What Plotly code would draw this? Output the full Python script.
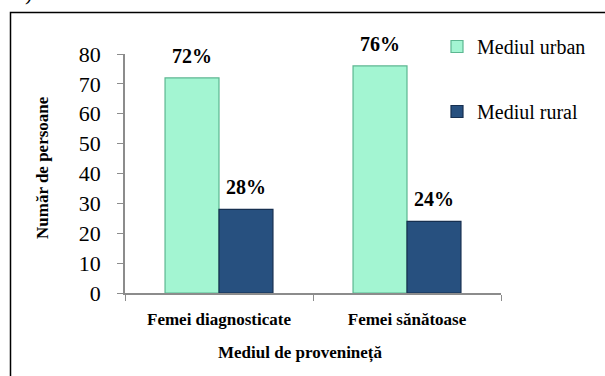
import plotly.graph_objects as go

# Data
categories = ["Femei diagnosticate", "Femei sănătoase"]
urban = [72, 76]
rural = [28, 24]
series_names = ["Mediul urban", "Mediul rural"]
y_ticks = [0, 10, 20, 30, 40, 50, 60, 70, 80]

FONT = "Liberation Serif, Times New Roman, serif"

# Plot-area geometry (pixels) used to place paper-referenced items
W, H = 605, 376
L, R, T, B = 125, 104, 54, 83
PW, PH = W - L - R, H - T - B


def px_x(x):
    return (x - L) / PW


def px_y(y):
    return (H - B - y) / PH


fig = go.Figure()
fig.add_trace(go.Bar(
    x=categories, y=urban, name=series_names[0], legendgroup="u",
    marker=dict(color="#a3f5d2", line=dict(color="#5cb791", width=1.2)),
))
fig.add_trace(go.Bar(
    x=categories, y=rural, name=series_names[1], legendgroup="r",
    marker=dict(color="#27507f", line=dict(color="#162f50", width=1.2)),
))

# Percentage labels above each bar
annotations = []
for i, cat in enumerate(categories):
    for vals, off in ((urban, -0.5), (rural, 0.5)):
        annotations.append(dict(
            x=cat, y=vals[i], xref="x", yref="y", xshift=off * 54,
            text=f"<b>{vals[i]}%</b>", showarrow=False,
            yanchor="bottom", yshift=9,
            font=dict(family=FONT, size=20, color="black"),
        ))

# Axis titles
annotations.append(dict(
    x=px_x(42), y=px_y(168), xref="paper", yref="paper",
    xanchor="center", yanchor="middle",
    text="<b>Număr de persoane</b>", textangle=-90, showarrow=False,
    font=dict(family=FONT, size=17, color="black"),
))
annotations.append(dict(
    x=px_x(300), y=px_y(353), xref="paper", yref="paper",
    xanchor="center", yanchor="middle",
    text="<b>Mediul de provenineță</b>", showarrow=False,
    font=dict(family=FONT, size=17, color="black"),
))
# Caption fragment at the very top
annotations.append(dict(
    x=px_x(12), y=px_y(7), xref="paper", yref="paper",
    xanchor="left", yanchor="bottom",
    text="2).", showarrow=False,
    font=dict(family=FONT, size=22, color="black"),
))

fig.update_layout(
    width=W, height=H,
    margin=dict(l=L, r=R, t=T, b=B, autoexpand=False),
    paper_bgcolor="white", plot_bgcolor="white",
    barmode="group", bargap=0.426, bargroupgap=0,
    font=dict(family=FONT, color="black"),
    showlegend=True,
    legend=dict(
        x=px_x(437), y=px_y(27), xanchor="left", yanchor="top",
        xref="paper", yref="paper",
        font=dict(family=FONT, size=20, color="black"),
        tracegroupgap=36, itemwidth=30,
        bgcolor="rgba(0,0,0,0)",
    ),
    annotations=annotations,
    shapes=[dict(
        type="rect", xref="paper", yref="paper",
        x0=px_x(10.5), x1=px_x(640), y0=px_y(420), y1=px_y(12.5),
        line=dict(color="black", width=1.5), fillcolor="rgba(0,0,0,0)",
        layer="below",
    )],
)

fig.update_xaxes(
    showline=True, linecolor="#8c8c8c", linewidth=1.5,
    ticks="outside", tickson="boundaries", ticklen=6, tickcolor="#8c8c8c",
    tickfont=dict(family=FONT, size=17, color="black"),
    ticklabelstandoff=10,
    tickvals=categories,
    ticktext=[f"<b>{c}</b>" for c in categories],
    showgrid=False, zeroline=False,
)
fig.update_yaxes(
    range=[0, 80], tickvals=y_ticks,
    showline=True, linecolor="#8c8c8c", linewidth=1.5,
    ticks="outside", ticklen=6, tickcolor="#8c8c8c",
    tickfont=dict(family=FONT, size=22, color="black"),
    ticklabelstandoff=12,
    showgrid=False, zeroline=False,
)

fig.write_html("out.html")
